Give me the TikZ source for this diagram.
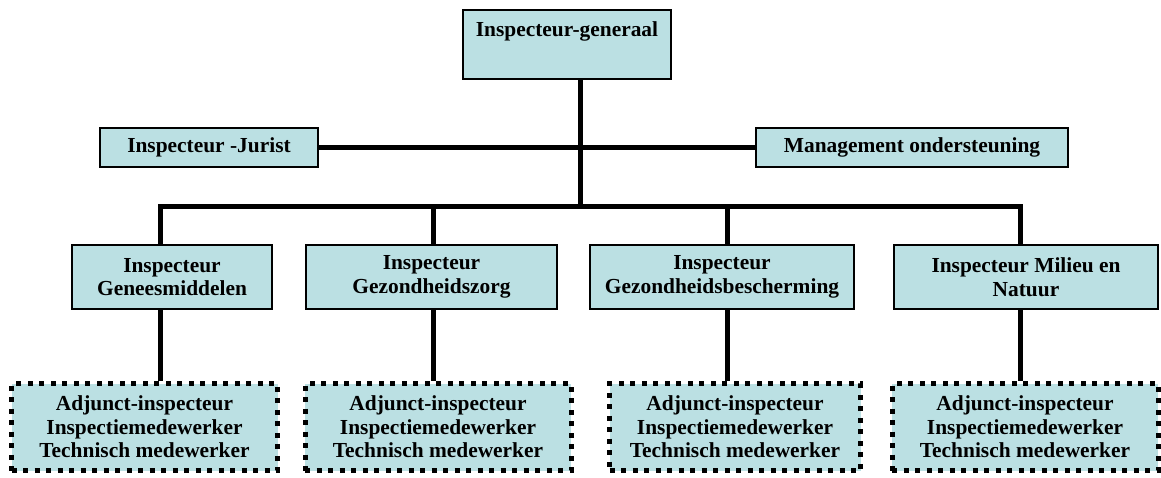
\documentclass[tikz,border=0pt]{standalone}
\usepackage{fontspec}
\setmainfont{Liberation Serif}
\usepackage{xcolor}
\usepackage{tikz}
\definecolor{boxfill}{RGB}{187,224,227}

\begin{document}
\begin{tikzpicture}[x=1pt,y=-1pt,
            box/.style={draw=black, line width=1.7pt, fill=boxfill, align=center, inner sep=0pt,
                font=\bfseries\fontsize{21.4}{23.5}\selectfont},
            dbox/.style={box, line width=5pt, dash pattern=on 5pt off 6.5pt, minimum width=266pt, minimum height=87pt},
            midbox/.style={box, minimum height=64pt},
            link/.style={line width=5pt}]
            \useasboundingbox (0,0) rectangle (1161,477);
            \node [box, minimum width=208pt, text height=26pt, text depth=43pt] (ig) at (567,44.5) {Inspecteur-generaal};
            \node [box, minimum width=218pt, minimum height=39pt] (jur) at (209,147.5) {Inspecteur -Jurist};
            \node [box, minimum width=312pt, minimum height=39pt] (mo) at (912,147.5) {Management ondersteuning};
            \node [midbox, minimum width=200pt] (gm) at (172,277) {Inspecteur\\Geneesmiddelen};
            \node [midbox, minimum width=251pt] (gz) at (431.5,277) {Inspecteur\\Gezondheidszorg};
            \node [midbox, minimum width=264pt] (gb) at (722,277) {Inspecteur\\Gezondheidsbescherming};
            \node [midbox, minimum width=264pt] (mn) at (1026,277) {Inspecteur Milieu en\\Natuur};
            \node [dbox] (dgm) at (144.5,427) {Adjunct-inspecteur\\Inspectiemedewerker\\Technisch medewerker};
            \node [dbox] (dgz) at (438,427) {Adjunct-inspecteur\\Inspectiemedewerker\\Technisch medewerker};
            \node [dbox, minimum width=251pt] (dgb) at (735,427) {Adjunct-inspecteur\\Inspectiemedewerker\\Technisch medewerker};
            \node [dbox] (dmn) at (1025,427) {Adjunct-inspecteur\\Inspectiemedewerker\\Technisch medewerker};
            % bus coordinates
            \coordinate (top) at (580,206);
            \coordinate (c1) at (160,206);
            \coordinate (c2) at (433,206);
            \coordinate (c3) at (727,206);
            \coordinate (c4) at (1020,206);
            \draw [link] (ig.south -| top) -- (top);
            \draw [link] (jur.east) -- (mo.west);
            \draw [link] (c1 |- gm.north) -- (c1) -- (c4) -- (c4 |- mn.north);
            \draw [link] (c2) -- (c2 |- gz.north);
            \draw [link] (c3) -- (c3 |- gb.north);
            \draw [link] (c1 |- gm.south) -- (c1 |- dgm.north);
            \draw [link] (c2 |- gz.south) -- (c2 |- dgz.north);
            \draw [link] (c3 |- gb.south) -- (c3 |- dgb.north);
            \draw [link] (c4 |- mn.south) -- (c4 |- dmn.north);
        \end{tikzpicture}
\end{document}
